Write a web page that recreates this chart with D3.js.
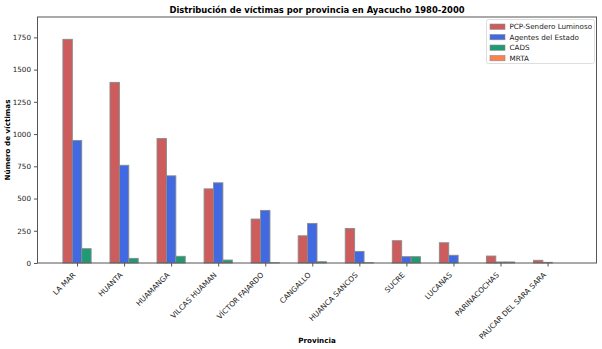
<!DOCTYPE html>
<html><head><meta charset="utf-8">
<script src="https://cdn.jsdelivr.net/npm/d3@7"></script>
<style>body{margin:0;background:#fff}svg{display:block;font-family:"DejaVu Sans",sans-serif}</style>
</head><body><svg id="c" width="602" height="349"></svg>
<script>
const provincias = ["LA MAR","HUANTA","HUAMANGA","VILCAS HUAMAN","VÍCTOR FAJARDO","CANGALLO","HUANCA SANCOS","SUCRE","LUCANAS","PARINACOCHAS","PAUCAR DEL SARA SARA"];
const seriesNames = ["PCP-Sendero Luminoso","Agentes del Estado","CADS","MRTA"];
const pcp = [1735,1401,965,575,341,211,268,173,157,54,21];
const agentes = [950,758,676,622,408,307,90,49,60,8,5];
const cads = [111,36,52,23,2,10,2,49,0,8,0];
const mrta = [0,0,0,0,0,0,0,0,0,0,0];
const colors = ["#CD5C5C","#4169E1","#1E9B74","#FF7F50"];
const yTicks = [0,250,500,750,1000,1250,1500,1750];

const svg = d3.select("#c");
const L=37.5, R=596.5, T=17, B=263;
const x = d3.scaleLinear().domain([-0.84, 11.04]).range([L,R]);
const y = d3.scaleLinear().domain([0, 1908]).range([B,T]);
const bw = 0.2;
const allSeries = [pcp, agentes, cads, mrta];

allSeries.forEach((vals, si) => {
  svg.append("g").selectAll("rect").data(vals).join("rect")
    .attr("x", (d,i)=>x(i + (si-1)*bw - bw/2))
    .attr("width", x(bw)-x(0))
    .attr("y", d=>y(d))
    .attr("height", d=>y(0)-y(d))
    .attr("fill", colors[si])
    .attr("stroke", "#8a8a8a")
    .attr("stroke-width", 0.9);
});

// axes frame
svg.append("rect").attr("x",L).attr("y",T).attr("width",R-L).attr("height",B-T)
  .attr("fill","none").attr("stroke","#555").attr("stroke-width",1);

const ya = svg.append("g").attr("transform",`translate(${L},0)`)
  .call(d3.axisLeft(y).tickValues(yTicks).tickSize(3.5).tickPadding(3).tickFormat(d3.format("d")));
ya.select(".domain").remove();
ya.selectAll("text").attr("font-size",7.2).attr("fill","#222").attr("font-family","DejaVu Sans");
ya.selectAll("line").attr("stroke","#555");

const xa = svg.append("g").attr("transform",`translate(0,${B})`)
  .call(d3.axisBottom(x).tickValues(d3.range(provincias.length)).tickSize(3.5).tickFormat(i=>provincias[i]));
xa.select(".domain").remove();
xa.selectAll("line").attr("stroke","#555");
xa.selectAll("text").attr("font-size",7.4).attr("fill","#222").attr("font-family","DejaVu Sans")
  .attr("text-anchor","end").attr("x",0).attr("y",0).attr("dy",0).attr("dx",0)
  .attr("transform","translate(-1.5,12.5) rotate(-45)");

svg.append("text").attr("x",(L+R)/2).attr("y",12.5).attr("text-anchor","middle")
  .attr("font-size",8.4).attr("font-weight","bold").text("Distribución de víctimas por provincia en Ayacucho 1980-2000");
svg.append("text").attr("x",(L+R)/2).attr("y",343).attr("text-anchor","middle")
  .attr("font-size",7.2).attr("font-weight","bold").text("Provincia");
svg.append("text").attr("transform",`translate(10,${(T+B)/2}) rotate(-90)`).attr("text-anchor","middle")
  .attr("font-size",7.2).attr("font-weight","bold").text("Número de víctimas");

// legend
const lg = svg.append("g");
lg.append("rect").attr("x",486.5).attr("y",19.5).attr("width",108).attr("height",44)
  .attr("rx",2).attr("fill","#fff").attr("fill-opacity",0.8).attr("stroke","#d5d5d5").attr("stroke-width",0.8);
seriesNames.forEach((n,i)=>{
  const yy = 26.5 + i*10.5;
  lg.append("rect").attr("x",490).attr("y",yy-2.5).attr("width",15).attr("height",5.3)
    .attr("fill",colors[i]).attr("stroke","#8a8a8a").attr("stroke-width",0.6);
  lg.append("text").attr("x",509.5).attr("y",yy+2.6).attr("font-size",7.2).attr("fill","#222").text(n);
});
</script></body></html>
